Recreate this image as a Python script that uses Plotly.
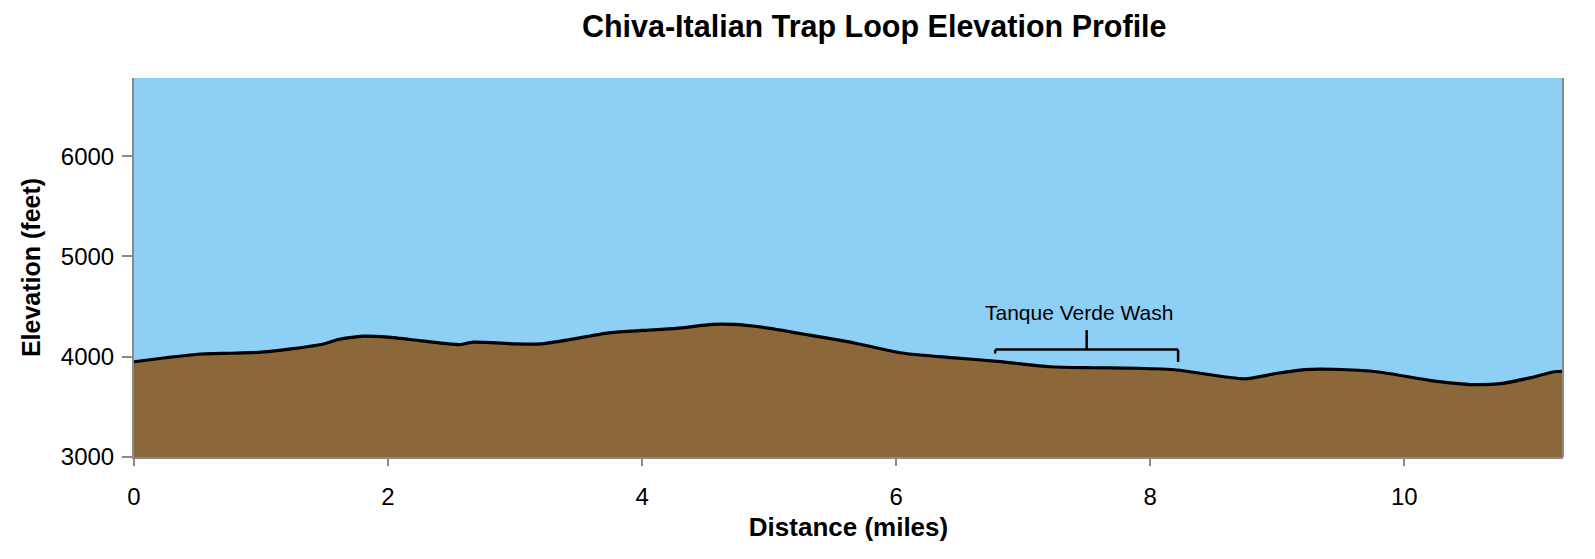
import plotly.graph_objects as go

# Data
distance_miles = [0, 0.25, 0.5, 0.75, 1.0, 1.25, 1.5, 1.6, 1.8, 2.0, 2.25, 2.5, 2.57, 2.67,
                  3.0, 3.2, 3.45, 3.75, 4.0, 4.27, 4.55, 4.72, 4.93, 5.32, 5.68, 6.03, 6.43,
                  6.82, 7.21, 7.55, 7.9, 8.21, 8.5, 8.75, 9.0, 9.21, 9.45, 9.8, 10.2, 10.55,
                  10.76, 11.0, 11.18, 11.25]
elevation_feet = [3950, 3990, 4025, 4035, 4045, 4080, 4130, 4170, 4205, 4195, 4160, 4125, 4122, 4145,
                  4128, 4128, 4175, 4240, 4262, 4282, 4322, 4322, 4297, 4215, 4135, 4040, 3992,
                  3952, 3900, 3890, 3885, 3868, 3815, 3780, 3835, 3872, 3875, 3848, 3765, 3722,
                  3732, 3792, 3850, 3855]

x_ticks = [0, 2, 4, 6, 8, 10]
y_ticks = [3000, 4000, 5000, 6000]

# Annotation: Tanque Verde Wash bracket
wash_label = "Tanque Verde Wash"
wash_start, wash_end = 6.78, 8.22
wash_mid = 7.5
bracket_level = 4071
bracket_left_end = 4032
bracket_right_end = 3948
bracket_top = 4265
label_x, label_y = 7.44, 4440

SKY = "#8DCFF5"
GROUND = "#8B6739"
AXIS = "#8a8a8a"
FONT = "Liberation Sans, Arial, Helvetica, sans-serif"

fig = go.Figure()
fig.add_trace(go.Scatter(
    x=distance_miles, y=elevation_feet, mode="lines",
    line=dict(color="black", width=3.2, shape="spline", smoothing=0.6),
    fill="tozeroy", fillcolor=GROUND, hoverinfo="x+y", showlegend=False,
))

bl = dict(color="black", width=2.5)
fig.add_shape(type="line", x0=wash_start, x1=wash_end, y0=bracket_level, y1=bracket_level, line=bl)
fig.add_shape(type="line", x0=wash_start, x1=wash_start, y0=bracket_level, y1=bracket_left_end, line=bl)
fig.add_shape(type="line", x0=wash_end, x1=wash_end, y0=bracket_level, y1=bracket_right_end, line=bl)
fig.add_shape(type="line", x0=wash_mid, x1=wash_mid, y0=bracket_level, y1=bracket_top, line=bl)
fig.add_shape(type="line", xref="paper", yref="paper", x0=1, x1=1, y0=0, y1=1,
              line=dict(color=AXIS, width=2))

fig.add_annotation(x=label_x, y=label_y, text=wash_label, showarrow=False,
                   font=dict(family=FONT, size=21, color="black"),
                   xanchor="center", yanchor="middle")

fig.update_layout(
    width=1595, height=559,
    margin=dict(l=134, r=32, t=78, b=102),
    paper_bgcolor="white", plot_bgcolor=SKY,
    font=dict(family=FONT, color="black"),
    title=dict(text="<b>Chiva-Italian Trap Loop Elevation Profile</b>",
               x=0.518, xref="paper", xanchor="center", y=1 - 26 / 559, yanchor="middle",
               font=dict(size=30.5, family=FONT, color="black")),
)
fig.update_xaxes(
    range=[0, 11.25], tickvals=x_ticks, showgrid=False, zeroline=False,
    showline=True, linecolor=AXIS, linewidth=2,
    ticks="outside", ticklen=7, tickwidth=2, tickcolor=AXIS,
    tickfont=dict(size=24), ticklabelstandoff=10,
    title=dict(text="<b>Distance (miles)</b>", font=dict(size=26), standoff=9),
)
fig.update_yaxes(
    range=[3000, 6780], tickvals=y_ticks, showgrid=False, zeroline=False,
    showline=True, linecolor=AXIS, linewidth=2,
    ticks="outside", ticklen=10, tickwidth=2, tickcolor=AXIS,
    tickfont=dict(size=24), ticklabelstandoff=3,
    title=dict(text="<b>Elevation (feet)</b>", font=dict(size=25), standoff=13),
)

fig.write_html("out.html")
